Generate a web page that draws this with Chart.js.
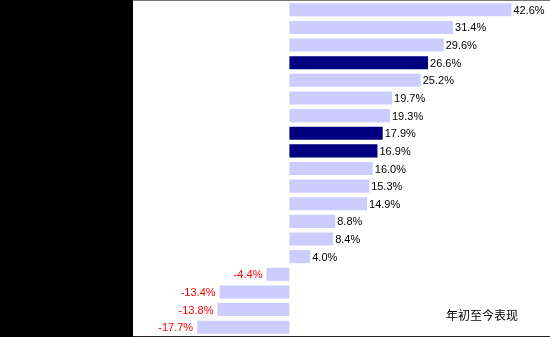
<!DOCTYPE html>
<html>
<head>
<meta charset="utf-8">
<script src="https://cdn.jsdelivr.net/npm/chart.js@4/dist/chart.umd.min.js"></script>
<style>
  html, body { margin: 0; padding: 0; background: #000; }
  #wrap { width: 550px; height: 337px; position: relative; }
</style>
</head>
<body>
<div id="wrap"><canvas id="myChart"></canvas></div>
<script>
// category names are not visible in the picture (black on black)
const categories = ['1', '2', '3', '4', '5', '6', '7', '8', '9', '10',
  '11', '12', '13', '14', '15', '16', '17', '18', '19'];
const ytdReturn = [42.6, 31.4, 29.6, 26.6, 25.2, 19.7, 19.3, 17.9, 16.9, 16.0,
  15.3, 14.9, 8.8, 8.4, 4.0, -4.4, -13.4, -13.8, -17.7];
const highlighted = [3, 7, 8];
const xTicks = { min: -30, max: 50 };
const noteText = '年初至今表现';

const barColors = ytdReturn.map((v, i) => highlighted.includes(i) ? '#000080' : '#CCCCFF');

const panel = {
  id: 'panel',
  beforeDraw(chart) {
    const c = chart.ctx;
    const a = chart.chartArea;
    c.save();
    c.fillStyle = '#000';
    c.fillRect(0, 0, chart.width, chart.height);
    c.fillStyle = '#fff';
    c.fillRect(a.left, 0, chart.width - a.left, chart.height);
    c.fillStyle = '#777';
    c.fillRect(a.left, 0, chart.width - a.left, 1);
    c.fillStyle = '#222';
    c.fillRect(a.left, chart.height - 1, chart.width - a.left, 1);
    c.restore();
  }
};

const valueLabels = {
  id: 'valueLabels',
  afterDatasetsDraw(chart) {
    const c = chart.ctx;
    const meta = chart.getDatasetMeta(0);
    c.save();
    c.font = '11px "Liberation Sans", Arial, sans-serif';
    c.textBaseline = 'middle';
    meta.data.forEach((bar, i) => {
      const v = ytdReturn[i];
      const txt = v.toFixed(1) + '%';
      if (v >= 0) {
        c.fillStyle = '#000';
        c.textAlign = 'left';
        c.fillText(txt, bar.x + 2, bar.y + 1);
      } else {
        c.fillStyle = '#FF0000';
        c.textAlign = 'right';
        c.fillText(txt, bar.x - 4, bar.y + 1);
      }
    });
    c.font = '12px "Noto Sans CJK SC", sans-serif';
    c.fillStyle = '#000';
    c.textAlign = 'center';
    c.fillText(noteText, 482, 315);
    c.restore();
  }
};

new Chart(document.getElementById('myChart'), {
  type: 'bar',
  data: {
    labels: categories,
    datasets: [{
      data: ytdReturn,
      backgroundColor: barColors,
      borderWidth: 0,
      barPercentage: 0.74,
      categoryPercentage: 1
    }]
  },
  options: {
    indexAxis: 'y',
    responsive: true,
    maintainAspectRatio: false,
    animation: false,
    layout: { padding: { left: 133, top: 1, bottom: 1, right: 0 } },
    plugins: {
      legend: { display: false },
      tooltip: { enabled: false },
      title: { display: false }
    },
    scales: {
      x: { display: false, min: xTicks.min, max: xTicks.max },
      y: { display: false }
    }
  },
  plugins: [panel, valueLabels]
});
</script>
</body>
</html>
